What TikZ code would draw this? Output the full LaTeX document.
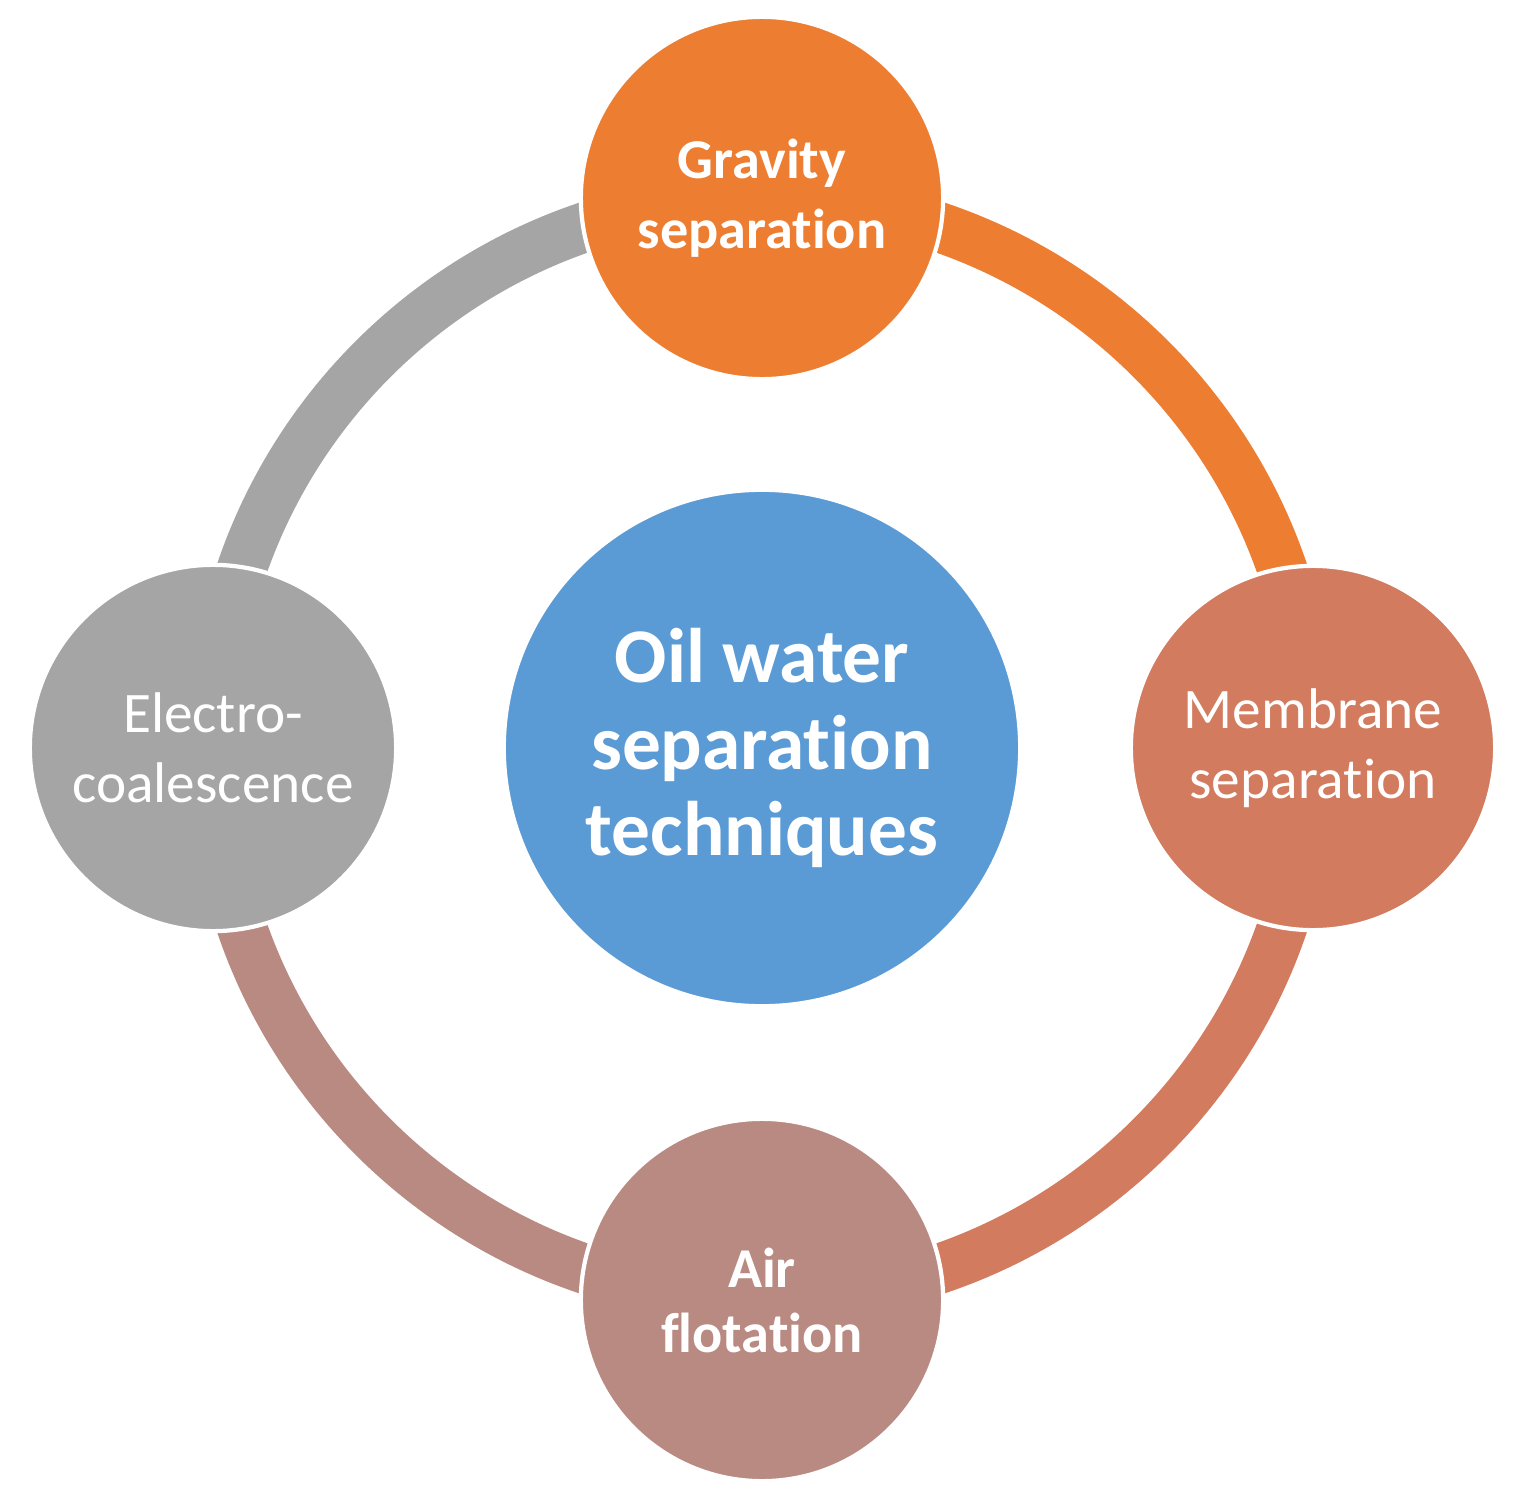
\documentclass[tikz,border=0pt]{standalone}
\usepackage{fontspec}
\setmainfont{Carlito}[Ligatures=NoCommon]
\definecolor{cor}{HTML}{ED7D31}
\definecolor{cmem}{HTML}{D27B5E}
\definecolor{cair}{HTML}{B98A82}
\definecolor{cgray}{HTML}{A5A5A5}
\definecolor{cblue}{HTML}{5B9BD5}
\begin{document}
\begin{tikzpicture}[x=0.01cm,y=-0.01cm,
  bub/.style={circle,draw=white,line width=1.2pt,minimum size=#1*0.02cm,inner sep=0pt,text=white,align=center},
  ring/.style={line width=0.5cm}]
\useasboundingbox (0,0) rectangle (1517,1512);
\coordinate (c) at (762,748);
\draw[ring,cgray] (c) ++(180:550) arc[start angle=180,end angle=270,radius=550];
\draw[ring,cor] (c) ++(270:550) arc[start angle=270,end angle=360,radius=550];
\draw[ring,cmem] (c) ++(0:550) arc[start angle=0,end angle=90,radius=550];
\draw[ring,cair] (c) ++(90:550) arc[start angle=90,end angle=180,radius=550];
\node[bub=258,fill=cblue,font=\bfseries\fontsize{22}{24.5}\selectfont] (mid) at (c) {Oil water\\separation\\techniques};
\node[bub=181,fill=cor,font=\bfseries\fontsize{16}{20}\selectfont] (grav) at (762,198) {Gravity\\separation};
\node[bub=182,fill=cmem,font=\fontsize{16.3}{20}\selectfont] (mem) at (1313,748) {Membrane\\separation};
\node[bub=181,fill=cair,font=\bfseries\fontsize{16}{18.5}\selectfont] (air) at (762,1300) {Air\\flotation};
\node[bub=183,fill=cgray,font=\fontsize{16.3}{20}\selectfont] (ele) at (213,748) {Electro-\\coalescence};
\end{tikzpicture}
\end{document}
